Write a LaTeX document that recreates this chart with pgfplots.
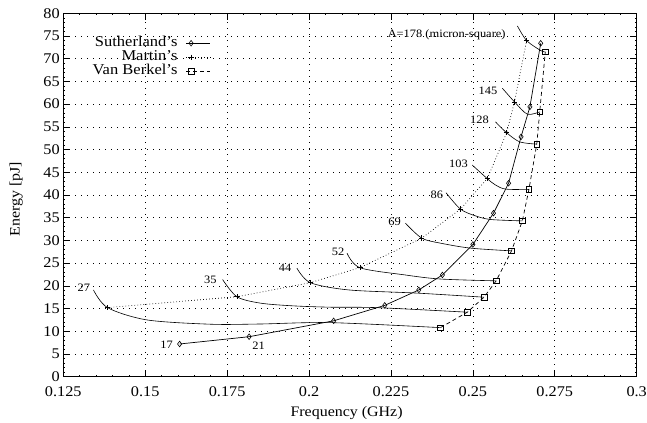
\documentclass[border=0pt]{standalone}
\usepackage{fontspec}
\setmainfont{Liberation Serif}[FakeStretch=1.1]
\usepackage{pgfplots}
\pgfplotsset{compat=1.18}
\usetikzlibrary{calc}

\begin{document}
\begin{tikzpicture}
\begin{axis}[
  name=ax,
  scale only axis,
  width=573.4pt, height=363.4pt,
  xmin=0.125, xmax=0.3, ymin=0, ymax=80,
  xtick={0.125,0.15,0.175,0.2,0.225,0.25,0.275,0.3},
  xticklabels={0.125,0.15,0.175,0.2,0.225,0.25,0.275,0.3},
  ytick={0,5,...,80},
  minor y tick num=4, minor x tick num=4,
  tick align=inside,
  major tick length=7pt, minor tick length=2pt,
  grid=major,
  major grid style={black, line width=0.6pt, dash pattern=on 0.7pt off 5.3pt},
  axis line style={line width=0.8pt},
  tick style={black, line width=0.6pt},
  /pgf/number format/assume math mode=true,
  ticklabel style={font=\fontsize{14.8}{16}\selectfont},
  xticklabel style={yshift=-6pt},
  xlabel={Frequency (GHz)}, ylabel={Energy [pJ]},
  label style={font=\fontsize{14.5}{16}\selectfont},
  xlabel style={at={(axis description cs:0.494,-0.100)}, anchor=center},
  ylabel style={at={(axis description cs:-0.082,0.489)}, anchor=center},
  legend plot pos=right,
  legend cell align=right,
  legend style={at={(0.2576,0.9375)}, anchor=north east, draw=none, fill=none,
    font=\fontsize{15}{14}\selectfont, row sep=0pt, inner sep=0pt, column sep=8pt,
    nodes={inner sep=0.5pt, text height=9.5pt, text depth=3.5pt}},
  legend image code/.code={\draw[mark repeat=2,mark phase=2] plot coordinates {(0cm,0cm) (0.17cm,0cm) (0.85cm,0cm)};},
]

% Sutherland's
\addplot[black, line width=0.7pt, mark=diamond, mark size=2.8pt, mark options={solid, line width=0.6pt}] coordinates {
  (0.1605,7.2) (0.1817,8.8) (0.2075,12.3) (0.2231,15.7) (0.2335,19.1) (0.2407,22.4)
  (0.2500,29.1) (0.2563,36.0) (0.2609,42.6) (0.2647,52.8) (0.2674,59.4) (0.2707,73.4)
};
\addlegendentry{Sutherland's}

% Martin's
\addplot[black, line width=0.7pt, dash pattern=on 0.7pt off 2.3pt, mark=+, mark size=2.7pt, mark options={solid, line width=0.6pt}] coordinates {
  (0.1385,15.2) (0.1780,17.6) (0.2004,20.7) (0.2155,24.0) (0.2344,30.5)
  (0.2462,36.9) (0.2544,43.6) (0.2603,53.7) (0.2627,60.5) (0.2664,74.0)
};
\addlegendentry{Martin's}

% Van Berkel's
\addplot[black, line width=0.7pt, dash pattern=on 4pt off 3pt, mark=square, mark size=2.8pt, mark options={solid, line width=0.6pt}] coordinates {
  (0.2401,10.8) (0.2483,14.2) (0.2534,17.5) (0.2571,21.1) (0.2618,27.7)
  (0.2651,34.3) (0.2671,41.2) (0.2695,51.2) (0.2704,58.3) (0.2721,71.5)
};
\addlegendentry{Van Berkel's}

% constant-area curves
\addplot[black, line width=0.6pt, smooth, forget plot] coordinates {
  (0.1342,19.1) (0.1385,15.2) (0.1505,12.5) (0.170,11.55) (0.1851,11.6) (0.2065,11.9) (0.2401,10.8)};
\addplot[black, line width=0.6pt, smooth, forget plot] coordinates {
  (0.1736,21.4) (0.1780,17.6) (0.1851,16.2) (0.1950,15.6) (0.2065,15.3) (0.2208,15.2) (0.2483,14.2)};
\addplot[black, line width=0.6pt, smooth, forget plot] coordinates {
  (0.1963,23.9) (0.2004,20.7) (0.2121,19.1) (0.2330,18.4) (0.2534,17.5)};
\addplot[black, line width=0.6pt, smooth, forget plot] coordinates {
  (0.2116,27.2) (0.2155,24.0) (0.2293,22.4) (0.2401,21.5) (0.2571,21.1)};
\addplot[black, line width=0.6pt, smooth, forget plot] coordinates {
  (0.2294,33.8) (0.2344,30.5) (0.2401,29.4) (0.2493,28.3) (0.2618,27.7)};
\addplot[black, line width=0.6pt, smooth, forget plot] coordinates {
  (0.2418,40.5) (0.2462,36.9) (0.2508,35.4) (0.2555,34.6) (0.2651,34.3)};
\addplot[black, line width=0.6pt, smooth, forget plot] coordinates {
  (0.2498,46.6) (0.2544,43.6) (0.2569,42.2) (0.2600,41.3) (0.2671,41.2)};
\addplot[black, line width=0.6pt, smooth, forget plot] coordinates {
  (0.2569,56.1) (0.2603,53.7) (0.2643,51.7) (0.2695,51.2)};
\addplot[black, line width=0.6pt, smooth, forget plot] coordinates {
  (0.2590,63.5) (0.2627,60.5) (0.2666,57.8) (0.2704,58.3)};
\addplot[black, line width=0.6pt, smooth, forget plot] coordinates {
  (0.2636,77.2) (0.2664,74.0) (0.2707,71.8) (0.2721,71.5)};

% area labels
\begin{scope}[every node/.style={font=\fontsize{11.3}{13}\selectfont, inner sep=0pt}]
\node at (axis cs:0.1313,19.6) {27};
\node at (axis cs:0.1699,21.4) {35};
\node at (axis cs:0.1927,23.9) {44};
\node at (axis cs:0.2089,27.5) {52};
\node at (axis cs:0.2261,34.1) {69};
\node at (axis cs:0.2390,40.1) {86};
\node at (axis cs:0.2456,46.8) {103};
\node at (axis cs:0.2520,56.5) {128};
\node at (axis cs:0.2546,63.0) {145};
\node at (axis cs:0.2420,75.2) {A=178 (micron-square)};
\node at (axis cs:0.1565,7.0) {17};
\node at (axis cs:0.1846,6.8) {21};
\end{scope}
\end{axis}
\pgfresetboundingbox
\path ($(ax.south west)+(-63.3pt,-46.3pt)$) rectangle ($(ax.north east)+(10.3pt,13.3pt)$);
\end{tikzpicture}
\end{document}
